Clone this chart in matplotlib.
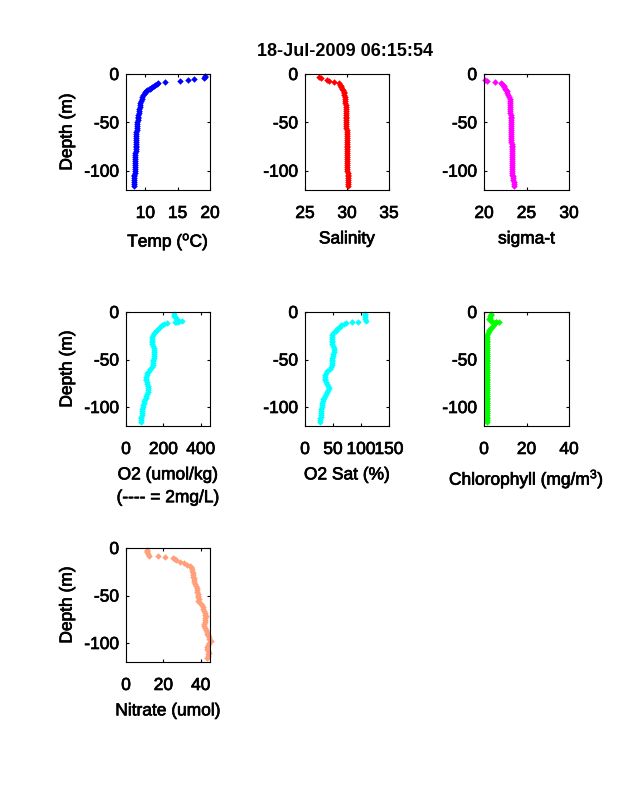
import matplotlib
matplotlib.use('Agg')
import matplotlib.pyplot as plt
import matplotlib.patheffects as pe
from matplotlib.text import Text

plt.rcParams['font.family'] = ['Liberation Sans', 'DejaVu Sans']
plt.rcParams['mathtext.default'] = 'regular'
plt.rcParams['axes.unicode_minus'] = False
plt.rcParams['font.size'] = 12.5

# depth of the deep samples, shared by all the profiles (m)
deep_z = [20, 22, 24, 26, 28, 30, 32, 34, 36, 38, 40, 42, 44, 46, 48, 50, 52, 54, 56, 58, 60, 62, 64, 66, 68,
          70, 72, 74, 76, 78, 80, 82, 84, 86, 88, 90, 92, 94, 96, 98, 100, 102, 104, 106, 108, 110, 112, 114, 116]

# shallow part has its own depths
temp_z = [2, 3, 4, 5.3, 6.5, 7.5, 8.6, 9, 10, 11, 12, 13, 14, 15, 16, 17, 18, 19]
temp = [19.3, 19.2, 19.1, 17.6, 16.6, 15.4, 13.1, 12.0, 11.8, 11.5, 11.3, 11.1, 10.9, 10.7, 10.5, 10.3, 10.1, 10.0,
        9.9, 9.7, 9.5, 9.4, 9.3, 9.2, 9.15, 9.1, 9.05, 9.0, 8.95, 8.9, 8.85, 8.8, 8.8, 8.75, 8.7, 8.7, 8.65, 8.65, 8.6,
        8.6, 8.6, 8.55, 8.55, 8.55, 8.5, 8.5, 8.5, 8.5, 8.5, 8.45, 8.45, 8.4, 8.4, 8.4, 8.4, 8.35, 8.35, 8.35, 8.35, 8.35,
        8.3, 8.3, 8.3, 8.3, 8.3, 8.3, 8.3]

sal_z = [3, 4.5, 6, 7, 8.6, 9.7, 11, 12, 13, 15, 17, 19]
sal = [26.7, 26.95, 27.65, 27.85, 28.45, 29.05, 29.15, 29.25, 29.3, 29.4, 29.5, 29.6,
       29.62, 29.68, 29.72, 29.76, 29.8, 29.82, 29.85, 29.85, 29.85, 29.85, 29.85, 29.85, 29.85, 29.85, 29.9, 29.9, 29.9,
       29.9, 29.9, 29.95, 29.95, 29.95, 29.95, 30.0, 30.0, 30.0, 30.0, 30.0, 30.0, 30.0, 30.05, 30.05, 30.05, 30.05,
       30.05, 30.05, 30.05, 30.05, 30.05, 30.05, 30.05, 30.1, 30.1, 30.1, 30.1, 30.1, 30.1, 30.1, 30.1]

sigma_z = [6.5, 7.6, 8.6, 9.3, 10, 11, 12, 13.5, 15, 16.5, 18]
sigma = [20.1, 20.4, 21.3, 22.0, 22.1, 22.2, 22.3, 22.4, 22.5, 22.6, 22.65,
         22.75, 22.85, 22.92, 23.0, 23.02, 23.05, 23.05, 23.08, 23.1, 23.1, 23.1, 23.12, 23.15, 23.15, 23.15, 23.15, 23.17,
         23.17, 23.18, 23.2, 23.2, 23.2, 23.2, 23.22, 23.22, 23.22, 23.25, 23.25, 23.25, 23.27, 23.27, 23.3, 23.3, 23.3,
         23.3, 23.3, 23.3, 23.32, 23.32, 23.33, 23.35, 23.35, 23.35, 23.37, 23.4, 23.45, 23.5, 23.5, 23.5]

o2_z = [2.5, 4, 5, 6.5, 8, 9, 9.5, 10, 10.5, 11, 12, 13, 14, 15.5, 17, 19]
o2 = [257, 259, 262, 266, 271, 298, 286, 280, 270, 262, 218, 204, 191, 183, 175, 164,
      160, 151, 143, 141, 140, 139, 139, 140, 144, 149, 152, 151, 150, 149, 148, 146, 146, 145, 143, 140, 130, 122, 114,
      110, 109, 108, 107, 110, 114, 118, 120, 118, 116, 113, 109, 105, 100, 96, 94, 92, 90, 88, 86, 85, 84, 83, 82, 80, 80]

sat_z = [2, 3.5, 5, 7, 9, 10.5, 11, 12, 13, 14, 15.5, 17, 19]
sat = [107, 107, 107, 108, 109.5, 95, 84, 74, 70, 65, 62, 59, 56,
       55, 50, 48, 48, 48, 48, 48, 49, 50, 51, 52, 51, 50, 50, 49, 49, 49, 49, 48, 47, 44, 40, 37, 36, 36, 36, 36, 38, 40,
       41, 42, 41, 40, 38, 36, 34, 33, 32, 31, 30, 30, 29, 29, 28, 28, 28, 27, 27, 27]

chl_z = [2, 3, 4.5, 6, 7, 8, 9, 10, 10.5, 10.5, 11, 12, 13, 15, 17, 18, 19]
chl = [3.4, 3.2, 3.0, 2.6, 2.2, 2.8, 3.5, 4.2, 5.5, 7.0, 5.8, 5.0, 4.5, 4.0, 3.4, 2.8, 2.5,
       2.3, 1.8, 1.5, 1.3, 1.2, 1.2, 1.2, 1.2, 1.2, 1.2, 1.2, 1.2, 1.2, 1.2, 1.2, 1.2, 1.2, 1.2, 1.2, 1.2, 1.2, 1.2, 1.2,
       1.2, 1.2, 1.2, 1.2, 1.2, 1.2, 1.2, 1.2, 1.2, 1.2, 1.2, 1.2, 1.2, 1.2, 1.2, 1.2, 1.2, 1.2, 1.3, 1.3, 1.3, 1.3,
       1.3, 1.3, 1.3, 1.3]

no3_z = [2, 3.5, 4.5, 6, 8, 8, 9.5, 11, 12, 13, 14.5, 16, 17.5, 19]
no3 = [11.2, 11.0, 11.3, 11.6, 12.3, 17.0, 20.7, 25.4, 26.2, 27.0, 29.0, 31.0, 32.5, 34.3,
       34.8, 35.2, 35.5, 35.7, 35.9, 36.0, 36.3, 36.6, 36.4, 36.8,
       37.4, 37.9, 38.1, 38.3, 38.5, 38.8, 38.8, 38.9, 38.8, 39.5,
       40.5, 41.0, 41.5, 42.0, 42.4, 42.5, 42.6, 42.5, 42.4, 42.2,
       42.0, 41.8, 42.5, 43.0, 43.4, 43.6, 43.9, 44.2, 44.6, 45.3,
       44.5, 43.9, 43.6, 43.6, 43.9, 44.2, 43.7, 44.1, 43.6]

W, H = 638, 788


def panel(left, right, top, bottom, x, z, color, xlim, xticks, xlabel, ylabel=True):
    ax = fig.add_axes([left / W, 1 - bottom / H, (right - left) / W, (bottom - top) / H])
    ax.plot(x, [-d for d in z + deep_z], ls='none', marker='D', ms=3.3, mew=0, color=color, clip_on=False)
    ax.set_xlim(xlim)
    ax.set_ylim(-120, 0)
    ax.set_xticks(xticks)
    ax.set_yticks([-100, -50, 0])
    ax.tick_params(direction='in', length=2, width=0.8, top=True, right=True)
    ax.tick_params(axis='x', pad=11.5)
    ax.tick_params(axis='y', pad=5)
    ax.set_xlabel(xlabel, labelpad=7.5, linespacing=1.65)
    if ylabel:
        ax.set_ylabel('Depth (m)', labelpad=7)
    for s in ax.spines.values():
        s.set_linewidth(0.8)
    return ax


fig = plt.figure(figsize=(6.38, 7.88), dpi=100)

panel(126, 210, 74, 190, temp, temp_z, '#0000ff', (7, 20), [10, 15, 20], 'Temp ($^{o}$C)')
panel(305, 389, 74, 190, sal, sal_z, '#ff0000', (25, 35), [25, 30, 35], 'Salinity', False)
panel(484, 569, 74, 190, sigma, sigma_z, '#ff00ff', (20, 30), [20, 25, 30], 'sigma-t', False)
panel(126, 210, 312, 426, o2, o2_z, '#00ffff', (0, 450), [0, 200, 400], 'O2 (umol/kg)\n(---- = 2mg/L)')
panel(305, 389, 312, 426, sat, sat_z, '#00ffff', (0, 150), [0, 50, 100, 150], 'O2 Sat (%)', False)
panel(484, 569, 312, 426, chl, chl_z, '#00ff00', (0, 40), [0, 20, 40], 'Chlorophyll (mg/m$^{3}$)', False)
panel(126, 210, 548, 662, no3, no3_z, '#ffa07a', (0, 45), [0, 20, 40], 'Nitrate (umol)')

# the original text is heavier than the regular weight
for t in fig.findobj(Text):
    t.set_path_effects([pe.withStroke(linewidth=0.5, foreground='black')])

fig.text(345 / W, 1 - 52 / H, '18-Jul-2009 06:15:54', ha='center', va='center', fontweight='bold', fontsize=13)

fig.savefig('out.png', dpi=100)
